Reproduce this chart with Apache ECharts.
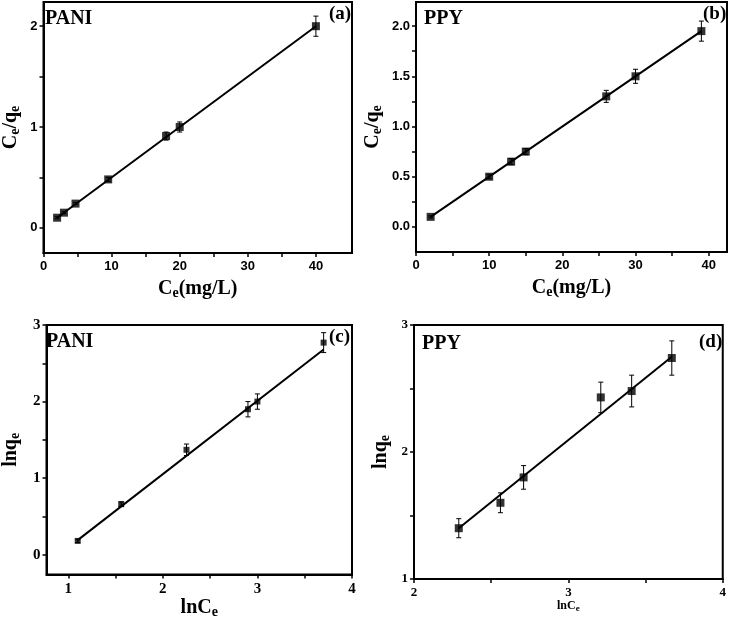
<!DOCTYPE html>
<html><head><meta charset="utf-8">
<script src="https://cdn.jsdelivr.net/npm/echarts@6/dist/echarts.min.js"></script>
<style>html,body{margin:0;padding:0;background:#fff}#c{width:729px;height:620px}</style>
</head><body><div id="c"></div>
<script>
// Panel (a) PANI Langmuir
const aX = [2, 3, 4.7, 9.5, 18, 20, 40];
const aY = [0.1, 0.15, 0.24, 0.48, 0.91, 1.0, 2.0];
const aErr = [0.01, 0.01, 0.01, 0.02, 0.04, 0.05, 0.1];
const aFitX = [2, 40];
const aFitY = [0.1, 2.0];
const aXTicks = [0, 10, 20, 30, 40];
const aYTicks = [0, 1, 2];
// Panel (b) PPY Langmuir
const bX = [2, 10, 13, 15, 26, 30, 39];
const bY = [0.1, 0.5, 0.65, 0.75, 1.3, 1.5, 1.95];
const bErr = [0.01, 0.02, 0.03, 0.03, 0.06, 0.07, 0.1];
const bFitX = [2, 39];
const bFitY = [0.1, 1.95];
const bXTicks = [0, 10, 20, 30, 40];
const bYTicks = [0.0, 0.5, 1.0, 1.5, 2.0];
// Panel (c) PANI Freundlich
const cX = [1.1, 1.56, 2.25, 2.9, 3.0, 3.7];
const cY = [0.18, 0.66, 1.37, 1.9, 2.0, 2.77];
const cErr = [0.02, 0.03, 0.075, 0.1, 0.1, 0.13];
const cFitX = [1.1, 3.7];
const cFitY = [0.19, 2.68];
const cXTicks = [1, 2, 3, 4];
const cYTicks = [0, 1, 2, 3];
// Panel (d) PPY Freundlich
const dX = [2.29, 2.56, 2.71, 3.21, 3.41, 3.67];
const dY = [1.40, 1.60, 1.80, 2.43, 2.48, 2.74];
const dErr = [0.075, 0.078, 0.093, 0.12, 0.125, 0.135];
const dFitX = [2.29, 3.67];
const dFitY = [1.40, 2.75];
const dXTicks = [2, 3, 4];
const dYTicks = [1, 2, 3];

const FONT = '"Liberation Serif", "DejaVu Serif", serif';
const SANS = '"Liberation Sans", Arial, sans-serif';
const chart = echarts.init(document.getElementById('c'), null, {renderer: 'canvas'});

function rng(a, b, s) { const r = []; for (let v = a; v <= b + 1e-9; v += s) r.push(+v.toFixed(4)); return r; }

function xAxis(gi, min, max, labels, tickStep, name, nameGap, lab, nameRich) {
  return {
    type: 'value', gridIndex: gi, min: min, max: max,
    name: name, nameLocation: 'middle', nameGap: nameGap,
    nameTextStyle: {rich: nameRich},
    splitLine: {show: false},
    axisLine: {show: true, onZero: false, lineStyle: {color: '#000', width: 2}},
    axisTick: {show: true, inside: false, length: 4, lineStyle: {color: '#000', width: 1.5},
      customValues: rng(labels[0], labels[labels.length - 1], tickStep)},
    axisLabel: Object.assign({customValues: labels, color: '#000', fontWeight: 'bold', margin: 7}, lab),
  };
}
function yAxis(gi, min, max, labels, tickStep, name, nameGap, lab, nameRich, fmt) {
  return {
    type: 'value', gridIndex: gi, min: min, max: max,
    name: name, nameLocation: 'middle', nameGap: nameGap,
    nameTextStyle: {rich: nameRich},
    splitLine: {show: false},
    axisLine: {show: true, onZero: false, lineStyle: {color: '#000', width: 2}},
    axisTick: {show: true, inside: false, length: 4, lineStyle: {color: '#000', width: 1.5},
      customValues: rng(labels[0], labels[labels.length - 1], tickStep)},
    axisLabel: Object.assign({customValues: labels, color: '#000', fontWeight: 'bold', margin: 6, formatter: fmt}, lab),
  };
}

function bigRich(size, sub) {
  return {
    m: {fontFamily: FONT, fontWeight: 'bold', fontSize: size, color: '#000'},
    s: {fontFamily: FONT, fontWeight: 'bold', fontSize: sub, color: '#000', padding: [Math.round(size * 0.45), 0, 0, 0]}
  };
}

function errSeries(gi, xs, ys, es, cap) {
  return {
    type: 'custom', xAxisIndex: gi, yAxisIndex: gi, z: 3,
    data: xs.map((x, i) => [x, ys[i], es[i]]),
    renderItem: function (params, api) {
      const x = api.value(0), y = api.value(1), e = api.value(2);
      const p1 = api.coord([x, y - e]), p2 = api.coord([x, y + e]);
      const st = {stroke: '#000', lineWidth: 1};
      return {type: 'group', children: [
        {type: 'line', shape: {x1: p1[0], y1: p1[1], x2: p2[0], y2: p2[1]}, style: st},
        {type: 'line', shape: {x1: p1[0] - cap, y1: p1[1], x2: p1[0] + cap, y2: p1[1]}, style: st},
        {type: 'line', shape: {x1: p2[0] - cap, y1: p2[1], x2: p2[0] + cap, y2: p2[1]}, style: st}
      ]};
    }
  };
}
function ptSeries(gi, xs, ys, size) {
  return {type: 'scatter', xAxisIndex: gi, yAxisIndex: gi, symbol: 'rect', symbolSize: size, z: 4,
    itemStyle: {color: '#000'}, data: xs.map((x, i) => [x, ys[i]])};
}
function fitSeries(gi, xs, ys) {
  return {type: 'line', xAxisIndex: gi, yAxisIndex: gi, symbol: 'none', z: 2,
    lineStyle: {color: '#000', width: 2}, data: xs.map((x, i) => [x, ys[i]])};
}

const gridStyle = {show: true, borderColor: '#000', borderWidth: 2, backgroundColor: 'transparent', containLabel: false};
const fmt1 = v => v.toFixed(1);
const fmt0 = v => String(Math.round(v));
const labAB = {fontFamily: SANS, fontSize: 13};
const labC = {fontFamily: FONT, fontSize: 15};
const labD = {fontFamily: FONT, fontSize: 13};

const option = {
  animation: false,
  backgroundColor: '#fff',
  grid: [
    Object.assign({left: 41, top: 2, width: 311, height: 251}, gridStyle),
    Object.assign({left: 416, top: 2, width: 311, height: 250}, gridStyle),
    Object.assign({left: 41, top: 325, width: 311, height: 254}, gridStyle),
    Object.assign({left: 414, top: 325, width: 310, height: 254}, gridStyle)
  ],
  xAxis: [
    xAxis(0, 0, 45.3, aXTicks, 5, '{m|C}{s|e}{m|(mg/L)}', 24, labAB, bigRich(20, 14)),
    xAxis(1, 0, 42.5, bXTicks, 5, '{m|C}{s|e}{m|(mg/L)}', 24, labAB, bigRich(20, 14)),
    xAxis(2, 0.77, 4, cXTicks, 0.5, '{m|lnC}{s|e}', 11, labC, bigRich(20, 14)),
    xAxis(3, 2, 4, dXTicks, 0.5, '{m|lnC}{s|e}', 13, labD, bigRich(12, 9))
  ],
  yAxis: [
    yAxis(0, -0.25, 2.24, aYTicks, 0.5, '{m|C}{s|e}{m|/q}{s|e}', 21, labAB, bigRich(20, 14), fmt0),
    yAxis(1, -0.25, 2.24, bYTicks, 0.25, '{m|C}{s|e}{m|/q}{s|e}', 32, labAB, bigRich(20, 14), fmt1),
    yAxis(2, -0.26, 3, cYTicks, 0.5, '{m|lnq}{s|e}', 24, labC, bigRich(20, 14), fmt0),
    yAxis(3, 1, 3, dYTicks, 0.5, '{m|lnq}{s|e}', 22, labD, bigRich(20, 14), fmt0)
  ],
  graphic: [
    {type: 'text', left: 45, top: 9, style: {text: 'PANI', font: 'bold 20px ' + FONT, fill: '#000'}},
    {type: 'text', left: 329, top: 5, style: {text: '(a)', font: 'bold 19px ' + FONT, fill: '#000'}},
    {type: 'text', left: 424, top: 9, style: {text: 'PPY', font: 'bold 20px ' + FONT, fill: '#000'}},
    {type: 'text', left: 703, top: 5, style: {text: '(b)', font: 'bold 19px ' + FONT, fill: '#000'}},
    {type: 'text', left: 46, top: 332, style: {text: 'PANI', font: 'bold 20px ' + FONT, fill: '#000'}},
    {type: 'text', left: 329, top: 328, style: {text: '(c)', font: 'bold 19px ' + FONT, fill: '#000'}},
    {type: 'text', left: 422, top: 334, style: {text: 'PPY', font: 'bold 20px ' + FONT, fill: '#000'}},
    {type: 'text', left: 699, top: 333, style: {text: '(d)', font: 'bold 19px ' + FONT, fill: '#000'}}
  ],
  series: [
    fitSeries(0, aFitX, aFitY), errSeries(0, aX, aY, aErr, 2.5), ptSeries(0, aX, aY, 8),
    fitSeries(1, bFitX, bFitY), errSeries(1, bX, bY, bErr, 2.5), ptSeries(1, bX, bY, 8),
    fitSeries(2, cFitX, cFitY), errSeries(2, cX, cY, cErr, 2.5), ptSeries(2, cX, cY, 6),
    fitSeries(3, dFitX, dFitY), errSeries(3, dX, dY, dErr, 2.5), ptSeries(3, dX, dY, 8)
  ]
};
chart.setOption(option);
</script>
</body></html>
